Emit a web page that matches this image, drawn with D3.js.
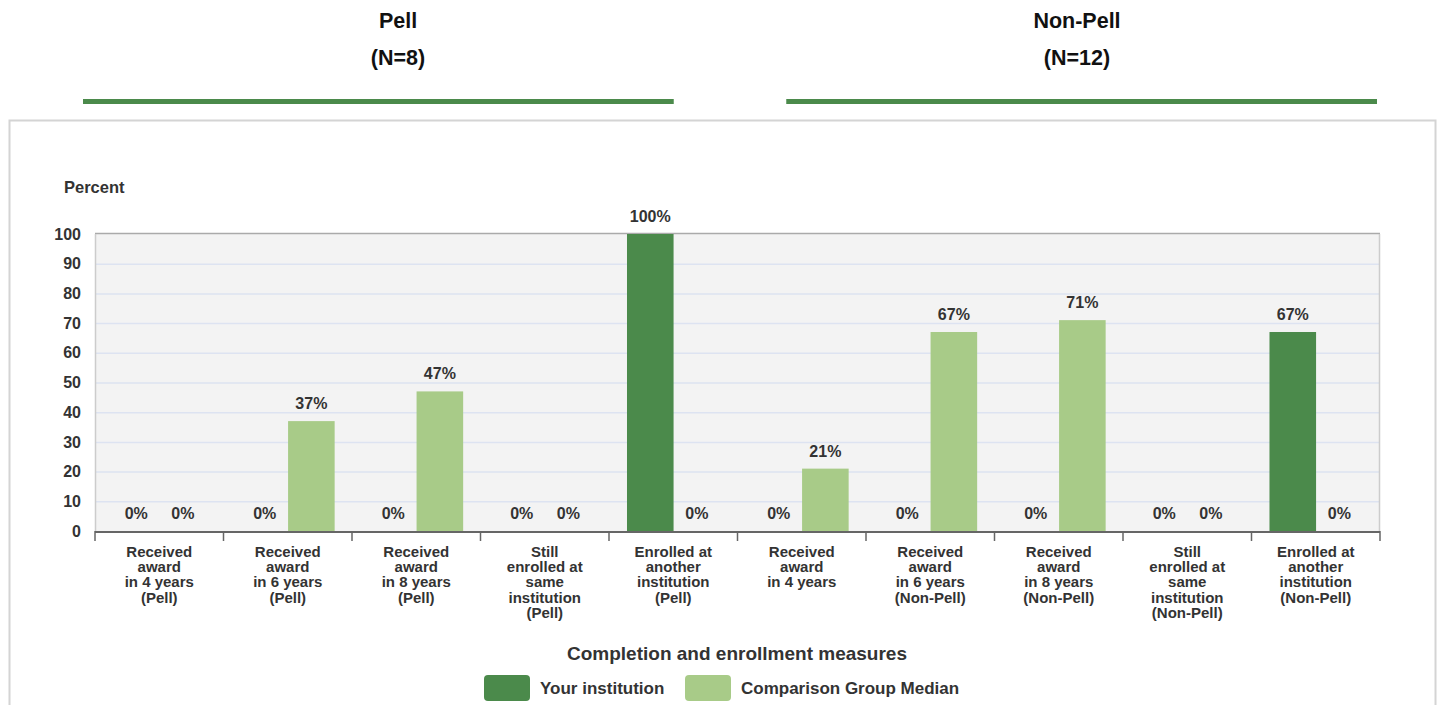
<!DOCTYPE html>
<html>
<head>
<meta charset="utf-8">
<script src="https://cdn.jsdelivr.net/npm/d3@7"></script>
<style>
  html, body { margin: 0; padding: 0; background: #fff; }
  svg { display: block; font-family: "Liberation Sans", Arial, sans-serif; }
</style>
</head>
<body>
<svg id="chart" width="1437" height="705"></svg>
<script>
// ── DATA ─────────────────────────────────────────────────────────────────────
const groups = ['Pell', 'Non-Pell'];
const groupN = ['(N=8)', '(N=12)'];

const categories = [
  ['Received', 'award', 'in 4 years', '(Pell)'],
  ['Received', 'award', 'in 6 years', '(Pell)'],
  ['Received', 'award', 'in 8 years', '(Pell)'],
  ['Still', 'enrolled at', 'same', 'institution', '(Pell)'],
  ['Enrolled at', 'another', 'institution', '(Pell)'],
  ['Received', 'award', 'in 4 years'],
  ['Received', 'award', 'in 6 years', '(Non-Pell)'],
  ['Received', 'award', 'in 8 years', '(Non-Pell)'],
  ['Still', 'enrolled at', 'same', 'institution', '(Non-Pell)'],
  ['Enrolled at', 'another', 'institution', '(Non-Pell)']
];

const seriesNames = ['Your institution', 'Comparison Group Median'];
const yourInstitution = [0, 0, 0, 0, 100, 0, 0, 0, 0, 67];
const comparisonMedian = [0, 37, 47, 0, 0, 21, 67, 71, 0, 0];

const yTicks = [0, 10, 20, 30, 40, 50, 60, 70, 80, 90, 100];

// ── COLOURS ──────────────────────────────────────────────────────────────────
const colors = ['#4b8a4b', '#a8cb88'];
const textColor = '#333';

// ── SETUP ────────────────────────────────────────────────────────────────────
const svg = d3.select('#chart');
const plot = { left: 95, right: 1380, top: 234, bottom: 531 };

// header: group titles with green rule under each
const headerX = d3.scaleBand().domain(groups).range([83, 1377]).paddingInner(0.16);
const headerTextX = [398, 1077];
const header = svg.append('g').selectAll('g').data(groups).join('g');
header.append('text')
  .attr('x', (d, i) => headerTextX[i]).attr('y', 28)
  .attr('text-anchor', 'middle').attr('font-size', 21.5).attr('font-weight', 'bold')
  .attr('fill', '#111').text(d => d);
header.append('text')
  .attr('x', (d, i) => headerTextX[i]).attr('y', 65)
  .attr('text-anchor', 'middle').attr('font-size', 21.5).attr('font-weight', 'bold')
  .attr('fill', '#111').text((d, i) => groupN[i]);
header.append('rect')
  .attr('x', d => headerX(d)).attr('y', 99)
  .attr('width', headerX.bandwidth()).attr('height', 5)
  .attr('fill', colors[0]);

// container frame
svg.append('rect')
  .attr('x', 9.5).attr('y', 120.5).attr('width', 1426).attr('height', 600)
  .attr('fill', 'none').attr('stroke', '#d4d4d4').attr('stroke-width', 2);

// ── SCALES ───────────────────────────────────────────────────────────────────
const x = d3.scaleBand().domain(d3.range(categories.length))
  .range([plot.left, plot.right]).padding(0);
const xInner = d3.scaleBand().domain([0, 1])
  .range([x.bandwidth() * 0.14, x.bandwidth() * 0.865]).padding(0);
const y = d3.scaleLinear().domain([0, 100]).range([plot.bottom, plot.top]);

// plot background
svg.append('rect')
  .attr('x', plot.left).attr('y', plot.top)
  .attr('width', plot.right - plot.left).attr('height', plot.bottom - plot.top)
  .attr('fill', '#f3f3f3');

// gridlines
svg.append('g').selectAll('line').data(yTicks.filter(t => t > 0 && t < 100)).join('line')
  .attr('x1', plot.left).attr('x2', plot.right)
  .attr('y1', d => y(d) + 0.5).attr('y2', d => y(d) + 0.5)
  .attr('stroke', '#dde3f1').attr('stroke-width', 1.5);

// frame lines (top, left, right)
svg.append('line').attr('x1', plot.left).attr('x2', plot.right)
  .attr('y1', plot.top - 0.5).attr('y2', plot.top - 0.5)
  .attr('stroke', '#aaa').attr('stroke-width', 1.5);
svg.append('line').attr('x1', plot.left + 0.5).attr('x2', plot.left + 0.5)
  .attr('y1', plot.top).attr('y2', plot.bottom)
  .attr('stroke', '#ccc').attr('stroke-width', 1.5);
svg.append('line').attr('x1', plot.right - 0.5).attr('x2', plot.right - 0.5)
  .attr('y1', plot.top).attr('y2', plot.bottom)
  .attr('stroke', '#ccc').attr('stroke-width', 1.5);

// ── BARS ─────────────────────────────────────────────────────────────────────
const series = [yourInstitution, comparisonMedian];
const barData = [];
categories.forEach((c, i) => {
  series.forEach((s, k) => barData.push({ i, k, v: s[i] }));
});

svg.append('g').selectAll('rect').data(barData.filter(d => d.v > 0)).join('rect')
  .attr('x', d => x(d.i) + xInner(d.k))
  .attr('y', d => y(d.v))
  .attr('width', xInner.bandwidth())
  .attr('height', d => y(0) - y(d.v))
  .attr('fill', d => colors[d.k]);

svg.append('g').selectAll('text').data(barData).join('text')
  .attr('x', d => x(d.i) + xInner(d.k) + xInner.bandwidth() / 2)
  .attr('y', d => y(d.v) - 12)
  .attr('text-anchor', 'middle').attr('font-size', 16).attr('font-weight', 'bold')
  .attr('fill', textColor)
  .text(d => d.v + '%');

// ── AXES ─────────────────────────────────────────────────────────────────────
const yAxis = svg.append('g')
  .attr('transform', `translate(${plot.left},0)`)
  .call(d3.axisLeft(y).tickValues(yTicks).tickSize(0).tickPadding(14));
yAxis.select('.domain').remove();
yAxis.selectAll('text')
  .attr('font-size', 16).attr('font-weight', 'bold').attr('fill', textColor)
  .attr('font-family', '"Liberation Sans", Arial, sans-serif');

svg.append('text')
  .attr('x', 64).attr('y', 193)
  .attr('font-size', 16.5).attr('font-weight', 'bold').attr('fill', textColor)
  .text('Percent');

const xTickPos = d3.range(categories.length + 1).map(i => plot.left + i * x.bandwidth());
svg.append('line')
  .attr('x1', plot.left).attr('x2', plot.right)
  .attr('y1', plot.bottom + 1).attr('y2', plot.bottom + 1)
  .attr('stroke', '#666').attr('stroke-width', 2);
svg.append('g').selectAll('line').data(xTickPos).join('line')
  .attr('x1', d => d).attr('x2', d => d)
  .attr('y1', plot.bottom).attr('y2', plot.bottom + 10)
  .attr('stroke', '#666').attr('stroke-width', 1.5);

const xLabels = svg.append('g').selectAll('text').data(categories).join('text')
  .attr('text-anchor', 'middle').attr('font-size', 15).attr('font-weight', 'bold')
  .attr('fill', textColor);
xLabels.each(function(lines, i) {
  d3.select(this).selectAll('tspan').data(lines).join('tspan')
    .attr('x', x(i) + x.bandwidth() / 2)
    .attr('y', (d, j) => 557 + j * 15.2)
    .text(d => d);
});

svg.append('text')
  .attr('x', 737).attr('y', 660)
  .attr('text-anchor', 'middle').attr('font-size', 19).attr('font-weight', 'bold')
  .attr('fill', textColor)
  .text('Completion and enrollment measures');

// ── LEGEND ───────────────────────────────────────────────────────────────────
const legendX = [484, 685];
const legend = svg.append('g').selectAll('g').data(seriesNames).join('g')
  .attr('transform', (d, i) => `translate(${legendX[i]},675)`);
legend.append('rect')
  .attr('width', 46).attr('height', 26).attr('rx', 4)
  .attr('fill', (d, i) => colors[i]);
legend.append('text')
  .attr('x', 56).attr('y', 19)
  .attr('font-size', 17).attr('font-weight', 'bold').attr('fill', textColor)
  .text(d => d);
</script>
</body>
</html>
